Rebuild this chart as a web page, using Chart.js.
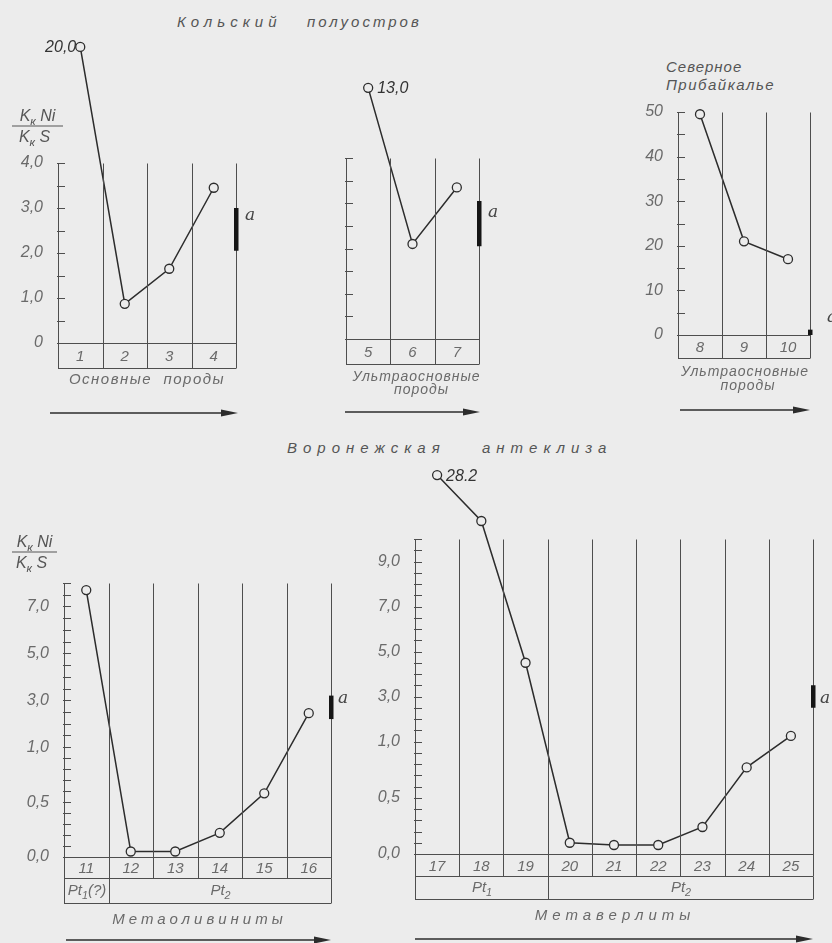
<!DOCTYPE html>
<html>
<head>
<meta charset="utf-8">
<title>Kк Ni / Kк S</title>
<script src="https://cdn.jsdelivr.net/npm/chart.js"></script>
<style>
  body { margin: 0; background: #ececec; }
  #page { position: relative; width: 832px; height: 943px; overflow: hidden; background: #ececec; }
  #page canvas { position: absolute; left: 0; top: 0; }
  .title { position: absolute; font: italic 15px "Liberation Sans", sans-serif; color: #555; white-space: pre; line-height: 18px; }
</style>
</head>
<body>
<div id="page">
  <div class="title" style="left:177px; top:13px; letter-spacing:5px">Кольский</div>
  <div class="title" style="left:307px; top:13px; letter-spacing:3px">полуостров</div>
  <div class="title" style="left:666px; top:58px; letter-spacing:1px">Северное</div>
  <div class="title" style="left:666px; top:76px; letter-spacing:1.5px">Прибайкалье</div>
  <div class="title" style="left:287px; top:439px; letter-spacing:6px">Воронежская</div>
  <div class="title" style="left:482px; top:439px; letter-spacing:6px">антеклиза</div>
  <canvas id="c1" width="832" height="943"></canvas>
  <canvas id="c2" width="832" height="943"></canvas>
  <canvas id="c3" width="832" height="943"></canvas>
  <canvas id="c4" width="832" height="943"></canvas>
  <canvas id="c5" width="832" height="943"></canvas>
</div>
<script>
// Кольский полуостров, основные породы
const cats1 = ['1', '2', '3', '4'];
const vals1 = [20.0, 0.87, 1.65, 3.45];
const aRange1 = [2.05, 3.0];

// Кольский полуостров, ультраосновные породы
const cats2 = ['5', '6', '7'];
const vals2 = [13.0, 2.1, 3.35];
const aRange2 = [2.05, 3.05];

// Северное Прибайкалье
const cats3 = ['8', '9', '10'];
const vals3 = [49.5, 21, 17];
const aRange3 = [0, 1.2];

// Воронежская антеклиза, метаоливиниты
const cats4 = ['11', '12', '13', '14', '15', '16'];
const vals4 = [7.7, 0.05, 0.05, 0.22, 0.58, 2.45];
const aRange4 = [2.2, 3.2];

// Воронежская антеклиза, метаверлиты
const cats5 = ['17', '18', '19', '20', '21', '22', '23', '24', '25'];
const vals5 = [28.2, 10.8, 4.5, 0.1, 0.08, 0.08, 0.24, 0.77, 1.25];
const aRange5 = [2.5, 3.5];

// y tick labels
const yTicks1 = [0, 1, 2, 3, 4];
const yLabels1 = ['0', '1,0', '2,0', '3,0', '4,0'];
const yTicks3 = [0, 10, 20, 30, 40, 50];
const yLabels3 = ['0', '10', '20', '30', '40', '50'];
const yTicks4 = [0, 0.5, 1, 3, 5, 7];
const yLabels4 = ['0,0', '0,5', '1,0', '3,0', '5,0', '7,0'];
const yTicks5 = [0, 0.5, 1, 3, 5, 7, 9];
const yLabels5 = ['0,0', '0,5', '1,0', '3,0', '5,0', '7,0', '9,0'];

// age rows
const periods4 = [{ from: 0, to: 0, name: 'Pt', sub: '1', tail: '(?)' }, { from: 1, to: 5, name: 'Pt', sub: '2' }];
const periods5 = [{ from: 0, to: 2, name: 'Pt', sub: '1' }, { from: 3, to: 8, name: 'Pt', sub: '2' }];

// broken / stretched axes: value -> axis position
const breaks1 = [[0, 0], [4, 4], [20, 6.58]];
const breaks2 = [[0, 0], [4, 4], [13, 5.55]];
const breaks3 = [[0, 0], [50, 50]];
const breaks4 = [[0, 0], [0.5, 1.17], [1, 2.34], [9, 6.34]];
const breaks5 = [[0, 0], [0.5, 1.25], [1, 2.5], [11, 7.5], [28.2, 8.42]];

const W = 832, H = 943;
const BG = '#ececec', INK = '#2c2c2c', RULE = '#4e4e4e', TEXT = '#6a6a6a';
const italic = s => `italic ${s}px "Liberation Sans", sans-serif`;

function toPos(v, br) {
  let i = 0;
  while (i < br.length - 2 && v > br[i + 1][0]) i++;
  const [v0, p0] = br[i], [v1, p1] = br[i + 1];
  return p0 + (v - v0) * (p1 - p0) / (v1 - v0);
}

function steps(from, to, step) {
  const out = [];
  for (let v = from; v <= to + 1e-9; v += step) out.push(Math.round(v * 100) / 100);
  return out;
}

function drawParts(ctx, parts, cx, cy, size) {
  let w = 0;
  parts.forEach(p => { ctx.font = italic(p.sub ? size * 0.72 : size); p.w = ctx.measureText(p.t).width; w += p.w; });
  let px = cx - w / 2;
  ctx.textAlign = 'left';
  ctx.textBaseline = 'middle';
  parts.forEach(p => {
    ctx.font = italic(p.sub ? size * 0.72 : size);
    ctx.fillText(p.t, px, cy + (p.sub ? size * 0.3 : 0));
    px += p.w;
  });
}

const figure = {
  id: 'figure',
  afterDraw(chart, args, o) {
    const { ctx, chartArea: a } = chart;
    const x = chart.scales.x, y = chart.scales.y;
    const n = chart.data.labels.length;
    const step = x.getPixelForValue(1) - x.getPixelForValue(0);
    const edge = i => x.getPixelForValue(0) - step / 2 + i * step;
    const py = v => y.getPixelForValue(toPos(v, o.breaks));
    const seg = (x0, y0, x1, y1) => { ctx.beginPath(); ctx.moveTo(x0, y0); ctx.lineTo(x1, y1); ctx.stroke(); };
    ctx.save();
    ctx.strokeStyle = RULE;
    ctx.lineWidth = 1;

    const yt = Math.round(py(o.axisTop)) + 0.5;
    const r0 = Math.round(a.bottom) + 0.5, r1 = r0 + o.rowH;

    // axis and column lines, down through the number row
    for (let i = 0; i <= n; i++) { const xx = Math.round(edge(i)) + 0.5; seg(xx, yt, xx, r1); }

    // tick marks on the inner side of the axis
    o.minor.forEach(v => { const yy = Math.round(py(v)) + 0.5; seg(a.left - 1, yy, a.left + 7, yy); });

    // row with sample numbers
    seg(a.left, r0, a.right, r0);
    seg(a.left, r1, a.right, r1);
    ctx.fillStyle = TEXT;
    ctx.textAlign = 'center';
    ctx.textBaseline = 'middle';
    ctx.font = italic(15);
    chart.data.labels.forEach((c, i) => ctx.fillText(c, x.getPixelForValue(i), (r0 + r1) / 2 + 1));

    // age row
    if (o.periods) {
      const r2 = r1 + o.periodH;
      seg(a.left, r2, a.right, r2);
      o.periods.forEach(p => {
        const xa = Math.round(edge(p.from)) + 0.5, xb = Math.round(edge(p.to + 1)) + 0.5;
        seg(xa, r1, xa, r2);
        seg(xb, r1, xb, r2);
        drawParts(ctx, [{ t: p.name }, { t: p.sub, sub: true }, { t: p.tail || '' }], (xa + xb) / 2, (r1 + r2) / 2, 15);
      });
    }

    // caption under the panel
    ctx.fillStyle = TEXT;
    ctx.textAlign = 'center';
    ctx.textBaseline = 'middle';
    o.caption.forEach(c => {
      ctx.font = italic(c.size || 15);
      ctx.letterSpacing = (c.spacing || 0) + 'px';
      ctx.fillText(c.text, (a.left + a.right) / 2 + (c.dx || 0), c.y);
    });
    ctx.letterSpacing = '0px';

    // arrow
    const ar = o.arrow;
    ctx.strokeStyle = INK;
    ctx.lineWidth = 1.6;
    seg(ar.x0, ar.y, ar.x1 - 10, ar.y);
    ctx.fillStyle = INK;
    ctx.beginPath();
    ctx.moveTo(ar.x1, ar.y);
    ctx.lineTo(ar.x1 - 17, ar.y - 3.5);
    ctx.lineTo(ar.x1 - 17, ar.y + 3.5);
    ctx.closePath();
    ctx.fill();

    // range "a"
    const ya = py(o.aRange[1]), yb = py(o.aRange[0]);
    ctx.fillStyle = '#151515';
    ctx.fillRect(a.right - 2, ya, 4.5, yb - ya);
    ctx.fillStyle = '#444';
    ctx.font = 'italic 17px "DejaVu Serif", serif';
    ctx.textAlign = 'left';
    ctx.fillText('a', a.right + o.aDx, ya + o.aDy);

    // values of points drawn above the axis break
    const pts = chart.getDatasetMeta(0).data;
    ctx.fillStyle = '#333';
    ctx.font = italic(16);
    (o.valueLabels || []).forEach(l => {
      const p = pts[l.i];
      ctx.textAlign = l.side === 'left' ? 'right' : 'left';
      ctx.fillText(l.text, p.x + (l.side === 'left' ? -4 : 9), p.y + 1);
    });

    // y axis title  Kк Ni / Kк S
    if (o.yTitle) {
      const t = o.yTitle;
      ctx.fillStyle = '#555';
      drawParts(ctx, [{ t: 'K' }, { t: 'к', sub: true }, { t: ' Ni' }], (t.x0 + t.x1) / 2, t.y - 9, 16);
      drawParts(ctx, [{ t: 'K' }, { t: 'к', sub: true }, { t: ' S' }], (t.x0 + t.x1) / 2 - 3, t.y + 12, 16);
      ctx.strokeStyle = '#555';
      ctx.lineWidth = 1.2;
      seg(t.x0, t.y, t.x1, t.y);
    }
    ctx.restore();
  }
};
Chart.register(figure);

// frame: axis box in page pixels; areaTop: where the plot area starts (room for points above the break)
function panel(id, cats, vals, ax, frame, areaTop, fig) {
  const topPos = toPos(ax.top, ax.breaks);
  const ppu = (frame.b - frame.t) / topPos;
  const maxPos = topPos + (frame.t - areaTop) / ppu;
  fig.breaks = ax.breaks;
  fig.axisTop = ax.top;
  const yWidth = 50;
  return new Chart(document.getElementById(id), {
    type: 'line',
    data: {
      labels: cats,
      datasets: [{
        data: vals.map(v => toPos(v, ax.breaks)),
        borderColor: INK,
        borderWidth: 1.5,
        pointRadius: 4.5,
        pointBackgroundColor: BG,
        pointBorderColor: INK,
        pointBorderWidth: 1.3,
        tension: 0,
        clip: false
      }]
    },
    options: {
      responsive: false,
      animation: false,
      events: [],
      layout: {
        autoPadding: false,
        padding: { left: frame.l - yWidth, top: areaTop, right: W - frame.r, bottom: H - frame.b }
      },
      plugins: { legend: { display: false }, tooltip: { enabled: false }, figure: fig },
      scales: {
        x: {
          type: 'category',
          offset: true,
          afterFit: s => { s.height = 0; },
          ticks: { display: false },
          grid: { display: false },
          border: { display: false }
        },
        y: {
          type: 'linear',
          min: 0,
          max: maxPos,
          bounds: 'data',
          afterFit: s => { s.width = yWidth; },
          afterBuildTicks: s => { s.ticks = ax.ticks.map(v => ({ value: toPos(v, ax.breaks) })); },
          ticks: {
            display: ax.labels.length > 0,
            autoSkip: false,
            padding: 7,
            color: TEXT,
            font: { size: 16, style: 'italic' },
            callback: (v, i) => ax.labels[i] ?? ''
          },
          grid: { display: false },
          border: { display: false }
        }
      }
    }
  });
}

Chart.defaults.font.family = '"Liberation Sans", "DejaVu Sans", sans-serif';

panel('c1', cats1, vals1,
  { breaks: breaks1, top: 4, ticks: yTicks1, labels: yLabels1 },
  { l: 58, t: 163, r: 236, b: 343 }, 30,
  {
    minor: steps(0, 4, 0.5), rowH: 25,
    caption: [{ text: 'Основные  породы', y: 380, spacing: 1.5 }],
    arrow: { y: 413, x0: 50, x1: 238 },
    aRange: aRange1, aDx: 9, aDy: 8,
    valueLabels: [{ i: 0, text: '20,0', side: 'left' }],
    yTitle: { x0: 12, x1: 63, y: 126 }
  });

panel('c2', cats2, vals2,
  { breaks: breaks2, top: 4, ticks: [], labels: [] },
  { l: 346, t: 158, r: 479, b: 339 }, 30,
  {
    minor: steps(0, 4, 0.5), rowH: 25,
    caption: [{ text: 'Ультраосновные', y: 377, spacing: 1, size: 14, dx: 4 }, { text: 'породы', y: 390, spacing: 1, size: 14, dx: 9 }],
    arrow: { y: 412, x0: 345, x1: 480 },
    aRange: aRange2, aDx: 9, aDy: 12,
    valueLabels: [{ i: 0, text: '13,0', side: 'right' }]
  });

panel('c3', cats3, vals3,
  { breaks: breaks3, top: 50, ticks: yTicks3, labels: yLabels3 },
  { l: 678, t: 112, r: 810, b: 335 }, 95,
  {
    minor: steps(0, 50, 5), rowH: 23,
    caption: [{ text: 'Ультраосновные', y: 372, spacing: 1, size: 14, dx: 1 }, { text: 'породы', y: 386, spacing: 1, size: 14, dx: 4 }],
    arrow: { y: 410, x0: 680, x1: 810 },
    aRange: aRange3, aDx: 17, aDy: -12
  });

panel('c4', cats4, vals4,
  { breaks: breaks4, top: 8, ticks: yTicks4, labels: yLabels4 },
  { l: 64, t: 583, r: 331, b: 857 }, 560,
  {
    minor: steps(0, 1, 0.1).concat(steps(1.5, 8, 0.5)), rowH: 21,
    periods: periods4, periodH: 25,
    caption: [{ text: 'Метаоливиниты', y: 920, spacing: 4, dx: 2 }],
    arrow: { y: 940, x0: 66, x1: 331 },
    aRange: aRange4, aDx: 7, aDy: 3,
    yTitle: { x0: 12, x1: 57, y: 552 }
  });

panel('c5', cats5, vals5,
  { breaks: breaks5, top: 10, ticks: yTicks5, labels: yLabels5 },
  { l: 415, t: 539, r: 813, b: 854 }, 462,
  {
    minor: steps(0, 1, 0.1).concat(steps(1.5, 10, 0.5)), rowH: 22,
    periods: periods5, periodH: 23,
    caption: [{ text: 'Метаверлиты', y: 916, spacing: 5, dx: 1 }],
    arrow: { y: 939, x0: 415, x1: 813 },
    aRange: aRange5, aDx: 7, aDy: 13,
    valueLabels: [{ i: 0, text: '28.2', side: 'right' }]
  });
</script>
</body>
</html>
